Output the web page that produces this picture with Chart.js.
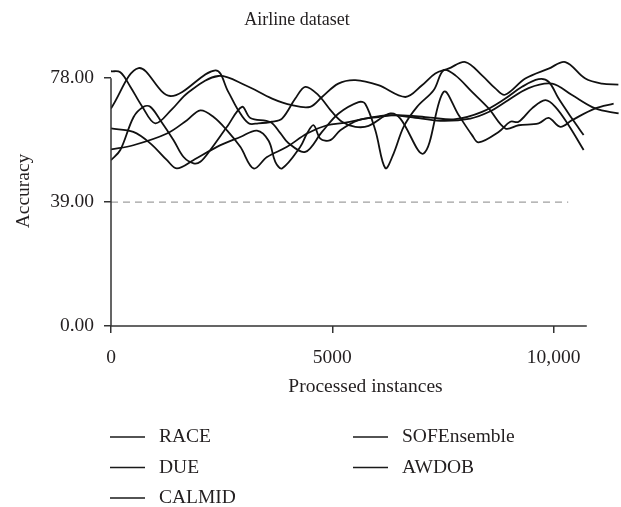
<!DOCTYPE html>
<html>
<head>
<meta charset="utf-8">
<script src="https://cdn.jsdelivr.net/npm/chart.js@4/dist/chart.umd.min.js"></script>
<style>
  html, body { margin: 0; padding: 0; background: #fff; }
</style>
</head>
<body>
<canvas id="chart" width="621" height="507"></canvas>
<script>
const series_names = ["RACE", "DUE", "CALMID", "SOFEnsemble", "AWDOB"];

const race_x = [0, 210, 430, 700, 1001, 1380, 1750, 2425, 3035, 3640, 4090, 4500, 4767, 5136, 5520, 6040, 6650, 7027, 7327, 7621, 8006, 8382, 8683, 8900, 9360, 9887, 10265, 10717, 11094, 11463];
const race_y = [80.2, 79.9, 75.5, 69.2, 63.8, 68.3, 73.6, 78.7, 75.8, 71.6, 69.5, 69.0, 72.1, 76.3, 77.4, 75.8, 72.1, 75.8, 79.5, 81.0, 83.1, 78.9, 74.8, 72.8, 77.9, 81.0, 83.1, 77.9, 76.3, 76.0];

const due_x = [0, 624, 1340, 2357, 2650, 2876, 3109, 3328, 3638, 3864, 4164, 4390, 4684, 4993, 5219, 5520, 5820, 6310, 6537, 7063, 7515, 7854, 8157, 8306, 8757, 9022, 9209, 9512, 9812, 10038, 10339, 10678];
const due_y = [68.5, 81.2, 72.4, 80.5, 73.7, 67.9, 63.8, 63.8, 64.3, 65.3, 71.6, 75.3, 72.7, 67.4, 64.3, 62.7, 63.0, 66.9, 65.3, 54.3, 73.7, 66.4, 60.1, 57.8, 61.1, 64.3, 64.3, 68.5, 71.1, 69.0, 63.2, 55.4];

const calmid_x = [0, 504, 888, 1265, 1491, 1859, 2395, 2921, 3299, 3561, 3712, 3864, 4277, 4428, 4578, 4729, 4955, 5181, 5594, 6046, 6498, 7215, 7780, 8382, 8909, 9286, 9661, 9887, 10113, 10416, 10678];
const calmid_y = [62.2, 61.1, 57.5, 52.2, 49.6, 52.2, 56.4, 59.5, 61.5, 58.3, 51.7, 49.6, 56.4, 60.6, 63.2, 59.0, 58.5, 61.6, 64.8, 65.8, 66.4, 65.6, 65.1, 67.4, 71.6, 75.3, 77.7, 76.9, 71.6, 65.3, 60.1];

const sof_x = [0, 504, 1265, 1717, 2018, 2318, 2621, 2921, 3222, 3525, 3977, 4428, 4880, 5294, 5746, 6272, 6763, 7441, 8119, 8570, 8909, 9435, 9964, 10416, 10943, 11469];
const sof_y = [55.6, 56.9, 60.6, 64.8, 67.9, 65.8, 61.6, 56.4, 49.6, 53.2, 56.4, 60.6, 63.2, 64.0, 65.3, 66.4, 65.8, 64.6, 65.3, 67.6, 70.5, 74.9, 76.3, 72.7, 68.5, 66.9];

const awdob_x = [0, 210, 511, 737, 888, 1114, 1414, 1640, 1866, 2018, 2244, 2621, 2960, 3148, 3600, 3826, 4006, 4390, 4767, 5142, 5594, 5746, 5972, 6198, 6385, 6611, 6914, 7289, 7515, 7780, 8157, 8532, 8909, 9209, 9661, 9887, 10152, 10416, 10943, 11356];
const awdob_y = [52.2, 55.4, 65.8, 69.0, 69.0, 64.8, 58.5, 53.2, 51.2, 51.7, 55.4, 62.7, 69.0, 65.5, 64.2, 60.7, 57.6, 54.8, 61.1, 66.9, 70.5, 69.9, 61.6, 49.7, 54.3, 62.7, 69.0, 74.2, 80.5, 78.9, 73.7, 68.5, 62.2, 63.2, 63.8, 65.5, 62.7, 64.8, 68.5, 70.0];

// dashed reference line at 39
const ref_x = [0, 10330];
const ref_y = [39, 39];

const x_ticks = [0, 5000, 10000];
const y_ticks = [0, 39, 78];
const x_axis_end = 10750;

const text_color = "#231f20";
const serif = "'Liberation Serif', 'DejaVu Serif', serif";

const to_points = function (xs, ys) {
    let array = [];
    for (let i = 0; i < xs.length; i++) {
        array.push({ x: xs[i], y: ys[i] });
    }
    return array;
}

const line_set = (label, xs, ys) => ({
    label: label,
    data: to_points(xs, ys),
    borderColor: "#111",
    borderWidth: 1.8,
    pointRadius: 0,
    fill: false,
    tension: 0.35,
});

const frame_plugin = {
    id: "frame",
    afterDraw(chart) {
        const ctx = chart.ctx;
        const area = chart.chartArea;
        const xs = chart.scales.x;
        const ys = chart.scales.y;
        ctx.save();

        // axis lines
        ctx.strokeStyle = "#333";
        ctx.lineWidth = 1.5;
        ctx.beginPath();
        ctx.moveTo(area.left, ys.getPixelForValue(y_ticks[y_ticks.length - 1]));
        ctx.lineTo(area.left, area.bottom);
        ctx.lineTo(xs.getPixelForValue(x_axis_end), area.bottom);
        ctx.stroke();

        // title
        ctx.fillStyle = text_color;
        ctx.font = "18px " + serif;
        ctx.textAlign = "center";
        ctx.textBaseline = "middle";
        ctx.fillText("Airline dataset", 297, 20);

        // legend, two columns
        ctx.font = "19.5px " + serif;
        ctx.textAlign = "left";
        const sets = chart.data.datasets.filter(d => series_names.includes(d.label));
        for (let i = 0; i < sets.length; i++) {
            const col = i < 3 ? 0 : 1;
            const row = i < 3 ? i : i - 3;
            const lx = col === 0 ? 110 : 353;
            const ly = 437 + row * 30.5;
            ctx.strokeStyle = "#1a1a1a";
            ctx.lineWidth = 1.5;
            ctx.beginPath();
            ctx.moveTo(lx, ly);
            ctx.lineTo(lx + 35, ly);
            ctx.stroke();
            ctx.fillText(sets[i].label, lx + 49, ly);
        }
        ctx.restore();
    }
};

const draw_chart = () => {
    Chart.defaults.font.family = serif;
    Chart.defaults.font.size = 19.5;
    Chart.defaults.color = text_color;

    const ctx = document.getElementById("chart");
    new Chart(ctx, {
        type: "line",
        data: {
            datasets: [
                line_set(series_names[0], race_x, race_y),
                line_set(series_names[1], due_x, due_y),
                line_set(series_names[2], calmid_x, calmid_y),
                line_set(series_names[3], sof_x, sof_y),
                line_set(series_names[4], awdob_x, awdob_y),
                {
                    label: "ref",
                    data: to_points(ref_x, ref_y),
                    borderColor: "#a0a0a0",
                    borderWidth: 1.2,
                    borderDash: [7, 5],
                    pointRadius: 0,
                    fill: false,
                },
            ]
        },
        options: {
            responsive: false,
            animation: false,
            layout: { padding: { top: 56, bottom: 100, left: 0, right: 1 } },
            plugins: {
                legend: { display: false },
                title: { display: false },
                tooltip: { enabled: false },
            },
            scales: {
                x: {
                    type: "linear",
                    min: 0,
                    max: 11500,
                    afterBuildTicks: (scale) => { scale.ticks = x_ticks.map(v => ({ value: v })); },
                    afterFit: (scale) => { scale.height = 81; },
                    ticks: {
                        padding: 13,
                        maxRotation: 0,
                        callback: (v) => v >= 10000 ? v.toLocaleString("en-US") : String(v),
                    },
                    grid: { drawOnChartArea: false, tickLength: 7, color: "#333", lineWidth: 1.5 },
                    border: { display: false },
                    title: { display: true, text: "Processed instances", padding: { top: 0, bottom: 8 } },
                },
                y: {
                    min: 0,
                    max: 85,
                    afterBuildTicks: (scale) => { scale.ticks = y_ticks.map(v => ({ value: v })); },
                    afterFit: (scale) => { scale.width = 111; },
                    ticks: {
                        padding: 10,
                        callback: (v) => v.toFixed(2),
                    },
                    grid: { drawOnChartArea: false, tickLength: 7, color: "#333", lineWidth: 1.5 },
                    border: { display: false },
                    title: { display: true, text: "Accuracy", padding: { top: 12, bottom: 0 } },
                },
            },
        },
        plugins: [frame_plugin],
    });
}

draw_chart();
</script>
</body>
</html>
